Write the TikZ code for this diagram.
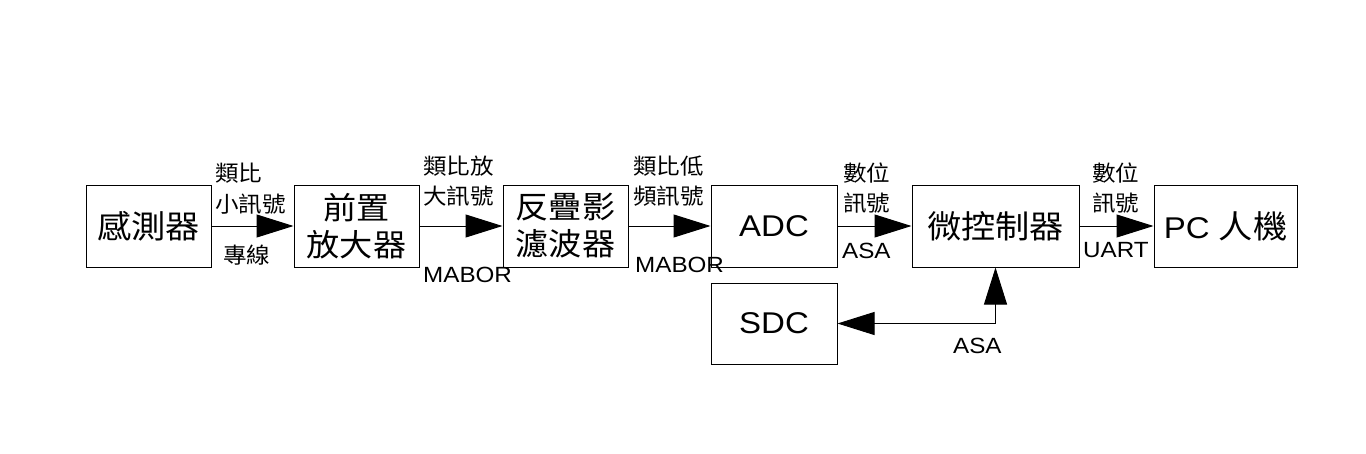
\documentclass[tikz,border=0pt]{standalone}
\usepackage{fontspec}
\setmainfont[FakeStretch=1.1]{Liberation Sans}
\newfontfamily\cjk[FakeStretch=1.07]{Noto Sans CJK TC}
\usetikzlibrary{arrows.meta}
\begin{document}
\begin{tikzpicture}[x=1pt,y=-1pt,
  blk/.style={draw,line width=1pt,minimum height=82pt,inner sep=0pt,align=center,font=\fontsize{30}{37}\selectfont},
  lab/.style={anchor=west,inner sep=0pt,font=\fontsize{22}{24}\selectfont},
  clab/.style={anchor=west,inner sep=0pt,font=\cjk\fontsize{22}{24}\selectfont},
  con/.style={line width=1pt,-{Triangle[length=37pt,width=23pt]}},
  bicon/.style={line width=1pt,{Triangle[length=37pt,width=23pt]}-{Triangle[length=37pt,width=23pt]}}]
\useasboundingbox[fill=white] (0,0) rectangle (1366,453);
\node[blk,minimum width=125pt,font=\cjk\fontsize{32}{37}\selectfont] (sen) at (148.5,226) {感測器};
\node[blk,minimum width=125pt,font=\cjk\fontsize{31}{37}\selectfont] (pre) at (356.5,226) {前置\\放大器};
\node[blk,minimum width=125pt,font=\cjk\fontsize{31}{37}\selectfont] (aaf) at (565.5,226) {反疊影\\濾波器};
\node[blk,minimum width=126pt] (adc) at (774,226) {ADC};
\node[blk,minimum width=167pt,font=\cjk\fontsize{32}{37}\selectfont] (mcu) at (995.5,226) {微控制器};
\node[blk,minimum width=143pt] (pc) at (1225.5,226) {PC {\cjk\fontsize{32}{37}\selectfont 人機}};
\node[blk,minimum width=126pt,minimum height=81pt] (sdc) at (774,323.5) {SDC};
\draw[con] (sen) -- (pre);
\draw[con] (pre) -- (aaf);
\draw[con] (aaf) -- (adc);
\draw[con] (adc) -- (mcu);
\draw[con] (mcu) -- (pc);
\draw[bicon] (mcu.south) |- (sdc.east);
\node[clab] (l1a) at (215,173) {類比};
\node[clab] (l1b) at (215,204) {小訊號};
\node[clab] (l1c) at (223,255) {專線};
\node[clab] (l2a) at (423,166) {類比放};
\node[clab] (l2b) at (423,196) {大訊號};
\node[lab] (l2c) at (423,275) {MABOR};
\node[clab] (l3a) at (633,166) {類比低};
\node[clab] (l3b) at (633,196) {頻訊號};
\node[lab] (l3c) at (635,265) {MABOR};
\node[clab] (l4a) at (843,173) {數位};
\node[clab] (l4b) at (843,203) {訊號};
\node[lab] (l4c) at (842,251) {ASA};
\node[clab] (l5a) at (1092,173) {數位};
\node[clab] (l5b) at (1092,203) {訊號};
\node[lab] (l5c) at (1083,250) {UART};
\node[lab] (l6) at (953,346) {ASA};
\end{tikzpicture}
\end{document}
